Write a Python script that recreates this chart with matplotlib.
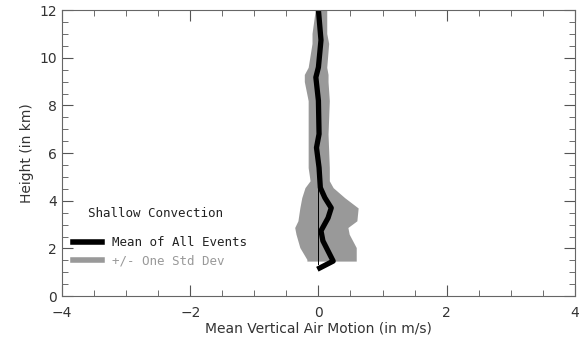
import matplotlib
matplotlib.use("Agg")
import matplotlib.pyplot as plt
from matplotlib.ticker import MultipleLocator

# mean profile (height in km, vertical motion in m/s)
mean_height = [12.0, 10.74, 9.6, 9.18, 8.2, 6.8, 6.23, 5.39, 4.55, 4.13, 3.7, 3.28, 2.74, 2.32, 1.47, 1.18]
mean_w = [0.0, 0.04, 0.0, -0.04, 0.0, 0.01, -0.03, 0.01, 0.03, 0.1, 0.2, 0.15, 0.04, 0.07, 0.23, 0.02]

# +/- one std dev envelope
band_height = [12.0, 11.02, 10.6, 9.6, 9.3, 9.0, 8.2, 6.8, 5.39, 4.84, 4.55, 4.13, 3.7, 3.16, 2.88, 2.6, 2.04, 1.54, 1.47]
band_left = [-0.05, -0.1, -0.1, -0.16, -0.22, -0.22, -0.16, -0.16, -0.16, -0.13, -0.21, -0.26, -0.29, -0.32, -0.37, -0.35, -0.29, -0.18, -0.18]
band_right = [0.13, 0.13, 0.16, 0.13, 0.15, 0.15, 0.17, 0.15, 0.17, 0.17, 0.23, 0.41, 0.62, 0.6, 0.46, 0.48, 0.59, 0.59, 0.59]

fig = plt.figure(figsize=(5.8, 3.48), dpi=100)
ax = fig.add_axes([0.107, 0.149, 0.884, 0.822])

ax.fill_betweenx(band_height, band_left, band_right, color='#999999', lw=0)
ax.plot([0, 0], [1.35, 4.5], color='black', lw=0.7)
ax.plot(mean_w, mean_height, color='black', lw=3.8)

ax.set_xlim(-4, 4)
ax.set_ylim(0, 12)
ax.xaxis.set_major_locator(MultipleLocator(2))
ax.xaxis.set_minor_locator(MultipleLocator(0.5))
ax.yaxis.set_major_locator(MultipleLocator(2))
ax.yaxis.set_minor_locator(MultipleLocator(0.5))
ax.tick_params(which='both', direction='in', top=True, right=True, colors='#555555', labelcolor='#333333', labelsize=10)
ax.tick_params(which='major', length=8)
ax.tick_params(which='minor', length=4)
ax.tick_params(axis='x', pad=7)
for s in ax.spines.values():
    s.set_color('#666666')

ax.set_xlabel('Mean Vertical Air Motion (in m/s)', fontsize=10, color='#333333', labelpad=1)
ax.set_ylabel('Height (in km)', fontsize=10, color='#333333')

ax.text(0.051, 0.29, 'Shallow Convection', transform=ax.transAxes, fontsize=9,
        family='DejaVu Sans Mono', color='#222222', va='center')
leg = ax.legend([plt.Line2D([], [], color='black', lw=4), plt.Line2D([], [], color='#999999', lw=4)],
                ['Mean of All Events', '+/- One Std Dev'], loc='lower left',
                bbox_to_anchor=(0.0, 0.06), frameon=False, handlelength=2.3, handletextpad=0.8,
                prop={'family': 'DejaVu Sans Mono', 'size': 9}, labelspacing=0.45)
leg.get_texts()[0].set_color('#222222')
leg.get_texts()[1].set_color('#999999')

fig.savefig('out.png', dpi=100)
